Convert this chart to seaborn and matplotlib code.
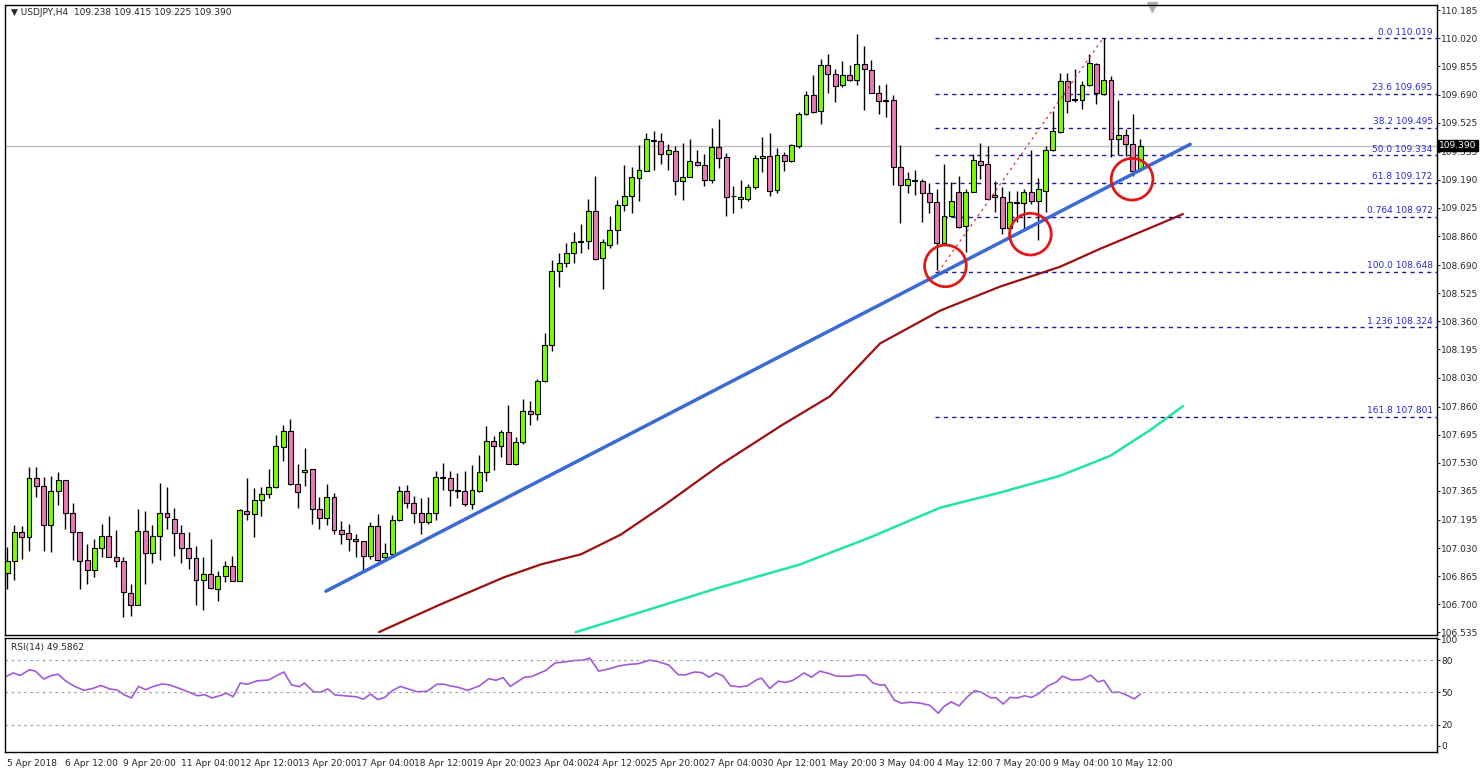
import numpy as np
import pandas as pd
import seaborn as sns
import matplotlib.pyplot as plt
import matplotlib.transforms as mtrans

# USDJPY H4 candles
opens = [106.881,106.951,107.125,107.095,107.442,107.393,107.165,107.364,107.428,107.233,107.125,106.959,106.903,107.033,107.101,106.979,106.951,106.764,106.698,107.130,107.000,107.101,107.233,107.198,107.117,107.033,
         106.971,106.843,106.878,106.790,106.864,106.926,106.835,107.247,107.228,107.312,107.345,107.387,107.621,107.714,107.403,107.477,107.491,107.261,107.208,107.329,107.136,107.117,107.082,107.072,106.985,107.160,
         106.975,106.994,107.195,107.364,107.292,107.233,107.183,107.233,107.446,107.442,107.370,107.364,107.286,107.364,107.473,107.656,107.626,107.710,107.523,107.652,107.835,107.819,108.012,108.220,108.654,108.701,
         108.761,108.824,108.833,109.005,108.730,108.810,108.898,109.044,109.096,109.203,109.244,109.423,109.419,109.343,109.361,109.180,109.209,109.296,109.275,109.188,109.384,109.324,109.092,109.077,109.080,109.149,
         109.316,109.330,109.131,109.333,109.300,109.388,109.577,109.690,109.592,109.865,109.810,109.744,109.802,109.777,109.869,109.835,109.699,109.658,109.660,109.265,109.158,109.187,109.184,109.110,109.057,108.818,
         108.979,109.119,108.917,109.119,109.300,109.281,109.100,109.090,108.905,109.055,109.053,109.119,109.067,109.125,109.365,109.472,109.767,109.662,109.660,109.744,109.871,109.695,109.777,109.431,109.452,109.398,109.252]
closes = [106.951,107.125,107.095,107.438,107.393,107.165,107.364,107.428,107.233,107.125,106.955,106.903,107.033,107.101,106.979,106.955,106.770,106.698,107.130,106.998,107.101,107.233,107.214,107.117,107.033,106.971,
          106.843,106.878,106.796,106.864,106.926,106.839,107.251,107.228,107.312,107.345,107.387,107.627,107.714,107.403,107.358,107.485,107.261,107.208,107.329,107.136,107.111,107.082,107.072,106.985,107.160,106.959,
          107.000,107.195,107.364,107.292,107.233,107.183,107.237,107.446,107.442,107.370,107.364,107.286,107.370,107.477,107.656,107.626,107.710,107.523,107.652,107.835,107.819,108.012,108.220,108.654,108.701,108.761,
          108.824,108.829,109.005,108.726,108.824,108.898,109.044,109.096,109.209,109.248,109.431,109.419,109.343,109.365,109.180,109.209,109.300,109.275,109.189,109.384,109.320,109.090,109.092,109.086,109.149,109.320,
          109.330,109.125,109.333,109.300,109.392,109.577,109.690,109.588,109.865,109.810,109.738,109.806,109.777,109.869,109.839,109.699,109.654,109.654,109.265,109.158,109.197,109.184,109.115,109.057,108.818,108.975,
          109.067,108.911,109.119,109.304,109.277,109.080,109.086,108.905,109.057,109.059,109.119,109.067,109.135,109.365,109.475,109.767,109.654,109.656,109.748,109.874,109.699,109.777,109.431,109.452,109.398,109.242,109.390]
highs = [107.037,107.165,107.160,107.506,107.504,107.446,107.451,107.475,107.428,107.296,107.125,107.056,107.082,107.173,107.218,107.136,106.975,106.819,107.261,107.247,107.165,107.413,107.389,107.267,107.165,107.126,
         107.039,106.975,107.082,106.897,106.952,106.985,107.257,107.442,107.384,107.387,107.496,107.691,107.753,107.788,107.524,107.617,107.491,107.329,107.403,107.354,107.189,107.170,107.111,107.072,107.185,107.228,
         107.062,107.224,107.393,107.399,107.335,107.321,107.331,107.481,107.529,107.481,107.471,107.481,107.519,107.574,107.743,107.685,107.720,107.870,107.679,107.903,107.895,108.020,108.292,108.722,108.761,108.819,
         108.886,108.931,109.077,109.213,108.843,108.975,109.073,109.275,109.265,109.392,109.462,109.476,109.466,109.402,109.388,109.407,109.431,109.363,109.343,109.495,109.548,109.349,109.154,109.189,109.164,109.335,
         109.442,109.462,109.378,109.353,109.398,109.588,109.713,109.802,109.898,109.929,109.839,109.884,109.865,110.044,109.976,109.894,109.744,109.752,109.690,109.392,109.236,109.248,109.197,109.170,109.135,109.281,
         109.174,109.213,109.135,109.339,109.404,109.388,109.184,109.150,109.125,109.125,109.135,109.363,109.199,109.388,109.592,109.816,109.816,109.839,109.767,109.929,109.874,110.019,109.797,109.656,109.489,109.577,109.427]
lows = [106.790,106.842,106.965,107.014,107.329,107.014,107.004,107.282,107.140,106.959,106.790,106.819,106.858,106.975,106.979,106.916,106.628,106.634,106.693,106.819,106.945,106.961,107.140,106.984,106.945,106.907,
        106.693,106.664,106.790,106.718,106.829,106.835,106.835,107.193,107.096,107.218,107.325,107.380,107.539,107.399,107.267,107.393,107.173,107.140,107.164,107.111,107.053,107.010,106.979,106.897,106.965,106.952,
        106.965,106.984,107.189,107.267,107.179,107.111,107.169,107.195,107.370,107.276,107.325,107.276,107.257,107.360,107.426,107.490,107.562,107.523,107.519,107.640,107.753,107.778,108.006,108.185,108.561,108.677,
        108.701,108.761,108.781,108.720,108.551,108.791,108.814,109.009,108.993,109.063,109.242,109.246,109.285,109.246,109.102,109.073,109.207,109.271,109.151,109.170,109.261,108.975,108.995,109.024,109.067,109.135,
        109.236,109.092,109.112,109.242,109.294,109.378,109.567,109.583,109.518,109.699,109.647,109.734,109.771,109.748,109.602,109.699,109.577,109.559,109.160,108.936,109.110,109.102,108.940,108.993,108.658,108.818,
        108.970,108.905,108.765,109.116,109.197,109.077,108.999,108.872,108.896,108.940,108.896,109.047,108.837,109.003,109.359,109.466,109.583,109.645,109.606,109.738,109.637,109.690,109.326,109.333,109.330,109.213,109.242]

# moving averages (bar position, price)
ma_red_bar = [51.2,59.7,68.4,73.5,79.0,84.5,90.4,98.2,106.5,113.3,120.2,128.5,136.7,145.0,150.5,158.7,161.9]
ma_red_val = [106.537,106.700,106.858,106.934,106.993,107.109,107.279,107.518,107.746,107.920,108.230,108.423,108.563,108.680,108.785,108.931,108.989]
ma_green_bar = [78.3,88.6,98.2,109.2,118.8,128.5,136.7,145.0,151.9,157.4,161.9]
ma_green_val = [106.537,106.672,106.800,106.934,107.092,107.267,107.355,107.454,107.571,107.722,107.862]

# trend line and fib retracement
trend_bar = [43.9, 162.9]
trend_val = [106.777, 109.398]
fib_names = ["0.0", "23.6", "38.2", "50.0", "61.8", "0.764", "100.0", "1.236", "161.8"]
fib_vals = [110.019, 109.695, 109.495, 109.334, 109.172, 108.972, 108.648, 108.324, 107.801]
fib_diag_bar = [128.2, 150.9]
fib_diag_val = [108.648, 110.019]
circle_bar = [129.2, 140.9, 154.9]
circle_val = [108.685, 108.871, 109.193]

# RSI(14)
rsi_bar = [-0.17,0.81,1.78,3.09,3.87,5.04,6.02,7.0,7.98,9.28,10.59,11.89,12.87,14.17,15.15,16.13,17.1,18.08,19.06,20.04,21.34,22.32,23.63,24.93,26.23,27.21,28.19,29.49,30.14,31.12,32.1,33.08,34.38,36.01,36.99,38.1,39.14,40.25,40.9,42.21,43.18,44.16,45.14,46.44,48.08,49.05,50.03,51.01,51.99,52.97,54.14,55.25,56.55,57.86,59.16,60.14,61.12,62.09,63.4,65.03,66.33,67.31,68.29,69.27,70.24,71.22,72.2,74.15,75.46,76.76,78.07,79.37,80.22,81.46,82.96,84.26,85.56,86.87,88.5,89.48,91.11,92.41,93.39,94.69,95.67,96.65,97.63,98.6,99.58,100.89,
           101.94,103.24,103.89,105.0,106.18,107.15,108.13,109.76,110.74,111.91,113.02,114.33,115.96,117.26,118.24,119.22,120.19,120.85,122.15,123.13,124.43,125.74,127.04,128.21,129.0,129.97,131.08,132.13,133.23,134.21,135.39,136.17,137.15,138.12,139.1,140.08,141.06,142.04,143.34,144.51,145.3,146.6,147.9,149.21,150.19,151.03,152.14,153.12,154.1,155.2,156.05]
rsi_val = [64.9,68.3,66.0,71.4,70.0,62.6,65.7,67.2,61.2,55.7,52.0,54.0,56.6,53.2,52.3,47.7,44.9,55.7,52.6,55.5,58.0,57.2,54.0,50.6,46.9,48.0,44.9,47.4,49.4,46.0,58.9,57.7,60.9,61.7,65.4,69.2,57.2,55.4,58.9,50.6,50.3,53.4,47.7,46.9,46.0,43.7,48.6,43.4,45.4,51.4,55.7,53.2,50.6,51.2,57.7,57.7,56.0,54.9,52.0,56.3,62.9,61.4,64.0,55.7,60.0,64.3,64.9,70.6,77.7,78.6,80.0,80.3,82.3,70.0,72.3,74.9,76.3,76.9,80.3,79.2,75.7,66.6,66.6,69.2,68.6,64.3,68.3,65.4,56.3,55.2,
           56.3,62.0,63.4,53.7,60.6,59.4,61.2,68.3,64.3,70.0,68.0,65.2,65.2,66.6,66.0,58.9,56.9,57.2,42.9,40.0,40.9,40.0,38.0,30.6,36.9,41.2,37.4,45.4,51.7,50.0,45.1,45.1,39.2,45.4,44.9,46.9,45.4,48.9,56.3,60.0,65.4,61.7,62.0,66.3,60.0,61.4,50.0,50.3,47.7,44.0,48.6]

price_ticks = [110.185,110.020,109.855,109.690,109.525,109.355,109.190,109.025,108.860,108.690,108.525,108.360,
               108.195,108.030,107.860,107.695,107.530,107.365,107.195,107.030,106.865,106.700,106.535]
date_labels = ["5 Apr 2018","6 Apr 12:00","9 Apr 20:00","11 Apr 04:00","12 Apr 12:00","13 Apr 20:00","17 Apr 04:00",
               "18 Apr 12:00","19 Apr 20:00","23 Apr 04:00","24 Apr 12:00","25 Apr 20:00","27 Apr 04:00","30 Apr 12:00",
               "1 May 20:00","3 May 04:00","4 May 12:00","7 May 20:00","9 May 04:00","10 May 12:00"]

sns.set_style("white")
plt.rcParams['font.family'] = ['DejaVu Sans']

df = pd.DataFrame({"o": opens, "c": closes, "h": highs, "l": lows})
df["bar"] = np.arange(len(df))
df["h"] = df[["o", "c", "h"]].max(axis=1)
df["l"] = df[["o", "c", "l"]].min(axis=1)
up = df["c"] >= df["o"]

fig = plt.figure(figsize=(14.8, 7.72), dpi=100)
ax = fig.add_axes([0.0034, 0.1775, 0.9676, 0.816])
ax2 = fig.add_axes([0.0034, 0.026, 0.9676, 0.1475])
xlim = (-0.3, 196.9)
FS = 6.5

# candles
ax.vlines(df["bar"], df["l"], df["h"], color="black", lw=1, zorder=2)
body = (df["c"] - df["o"]).abs().clip(lower=0.004)
ax.bar(df["bar"], body, bottom=df[["o", "c"]].min(axis=1), width=0.68,
       color=np.where(up, "#7cfc00", "#e87ab8"), edgecolor="black", linewidth=0.8, zorder=3)

sns.lineplot(x=ma_red_bar, y=ma_red_val, ax=ax, color="#9b1010", lw=1.6, zorder=1)
sns.lineplot(x=ma_green_bar, y=ma_green_val, ax=ax, color="#22e6a0", lw=1.8, zorder=1)
ax.plot(trend_bar, trend_val, color="#3a6ad8", lw=2.5, zorder=4)
ax.plot(fib_diag_bar, fib_diag_val, color="#e03030", lw=0.9, ls=(0, (2, 3)), zorder=4)

ax.axhline(109.390, color="#c0c0c0", lw=1, zorder=0)
for name, v in zip(fib_names, fib_vals):
    ax.plot([127.8, xlim[1]], [v, v], color="#1a1a9a", lw=1, ls=(0, (3, 3)), zorder=1)
    ax.text(196.3, v + 0.01, f"{name} {v:.3f}", color="#2a2ad0", fontsize=FS, ha="right", va="bottom")

ax.scatter(circle_bar, circle_val, s=900, facecolors="none", edgecolors="#e01818", linewidths=2, zorder=5)
ax.plot([157.6], [110.205], marker="v", color="#b0b0b0", ms=7, clip_on=False)

ax.set_xlim(*xlim)
ax.set_ylim(106.52, 110.215)
ax.yaxis.tick_right()
ax.set_yticks(price_ticks)
ax.set_yticklabels([f"{t:.3f}" for t in price_ticks], fontsize=FS)
ax.tick_params(axis="y", length=2, pad=1)
ax.set_xticks([])
ax.text(0.004, 0.995, "\u25bc USDJPY,H4  109.238 109.415 109.225 109.390", transform=ax.transAxes,
        fontsize=FS, va="top", ha="left")
trans = mtrans.blended_transform_factory(ax.transAxes, ax.transData)
ax.text(1.0015, 109.390, "109.390", transform=trans, fontsize=FS, color="white", va="center", ha="left",
        bbox=dict(boxstyle="square,pad=0.12", fc="black", ec="black"))

# RSI panel
sns.lineplot(x=rsi_bar, y=rsi_val, ax=ax2, color="#a05ad8", lw=1.2)
for lvl in (80, 50, 20):
    ax2.axhline(lvl, color="#a0a0a0", lw=0.9, ls=(0, (2, 3)))
ax2.set_xlim(*xlim)
ax2.set_ylim(-5.7, 101)
ax2.yaxis.tick_right()
ax2.set_yticks([100, 80, 50, 20, 0])
ax2.set_yticklabels(["100", "80", "50", "20", "0"], fontsize=FS)
ax2.tick_params(axis="y", length=2, pad=1)
ax2.set_xticks(np.arange(0, 8 * len(date_labels), 8))
ax2.set_xticklabels(date_labels, fontsize=FS, ha="left")
ax2.tick_params(axis="x", length=3, pad=2)
ax2.text(0.004, 0.96, "RSI(14) 49.5862", transform=ax2.transAxes, fontsize=FS, va="top", ha="left")

for a in (ax, ax2):
    for s in a.spines.values():
        s.set_color("black")
        s.set_linewidth(1)

fig.savefig("out.png", dpi=100)
